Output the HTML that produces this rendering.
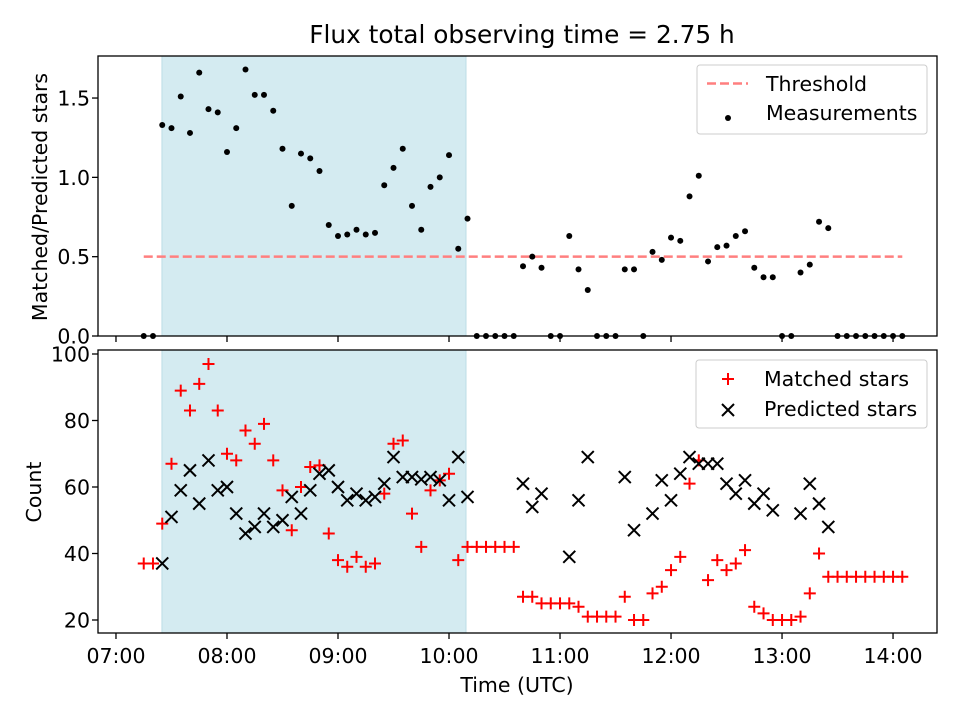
<!DOCTYPE html>
<html><head><meta charset="utf-8"><style>
html,body{margin:0;padding:0;background:#fff;}
svg{display:block;font-family:"DejaVu Sans","Liberation Sans",sans-serif;}
</style></head><body>
<svg id="chart" width="960" height="720" viewBox="0 0 960 720"></svg>
<script>
// ---- data ----
const startHour = 7.25;
const stepHours = 5/60;
const shadeStart = 7.414;
const shadeEnd = 10.153;
const threshold = 0.5;
const ratio = [0,0,1.33,1.31,1.51,1.28,1.66,1.43,1.41,1.16,1.31,1.68,1.52,1.52,1.42,1.18,0.82,1.15,1.12,1.04,0.70,0.63,0.64,0.67,0.64,0.65,0.95,1.06,1.18,0.82,0.67,0.94,1.00,1.14,0.55,0.74,0,0,0,0,0,0.44,0.50,0.43,0,0,0.63,0.42,0.29,0,0,0,0.42,0.42,0,0.53,0.48,0.62,0.60,0.88,1.01,0.47,0.56,0.57,0.63,0.66,0.43,0.37,0.37,0,0,0.40,0.45,0.72,0.68,0,0,0,0,0,0,0,0];
const matched = [37,37,49,67,89,83,91,97,83,70,68,77,73,79,68,59,47,60,66,66.5,46,38,36,39,36,37,58,73,74,52,42,59,62,64,38,42,42,42,42,42,42,27,27,25,25,25,25,24,21,21,21,21,27,20,20,28,30,35,39,61,68,32,38,35,37,41,24,22,20,20,20,21,28,40,33,33,33,33,33,33,33,33,33];
const predicted = [null,null,37,51,59,65,55,68,59,60,52,46,48,52,48,50,57,52,59,64,65,60,56,58,56,57,61,69,63,63,62.3,63,62,56,69,57,null,null,null,null,null,61,54,58,null,null,39,56,69,null,null,null,63,47,null,52,62,56,64,69,67,67,67,61,58,62,55,58,53,null,null,52,61,55,48,null,null,null,null,null,null,null,null];
const topTicks = [0,0.5,1.0,1.5];
const botTicks = [20,40,60,80,100];
const xTickHours = [7,8,9,10,11,12,13,14];
const xTickLabels = ["07:00","08:00","09:00","10:00","11:00","12:00","13:00","14:00"];

// ---- axes ----
const L=98,R=937,T1=56,B1=336,T2=350,B2=633;
const xmin=6.838,xmax=14.396;
const X=h=>L+(h-xmin)/(xmax-xmin)*(R-L);
const Y1=v=>B1-(v-0)/(1.765-0)*(B1-T1);
const Y2=v=>620-(v-20)*3.325;
const svg=document.getElementById('chart');
const NS='http://www.w3.org/2000/svg';
const FS='20.5';
function mk(tag,attrs,parent){const e=document.createElementNS(NS,tag);for(const k in attrs)e.setAttribute(k,attrs[k]);(parent||svg).appendChild(e);return e;}

let t=mk('text',{x:522,y:43,'text-anchor':'middle','font-size':'24.8'});t.textContent='Flux total observing time = 2.75 h';



function panel(top,bot,name){
  const g=mk('g',{});
  
  
  const r=mk('rect',{x:X(shadeStart),y:top,width:X(shadeEnd)-X(shadeStart),height:bot-top,fill:'#d4ebf1',stroke:'#bcdde6','stroke-width':1},g);
  
  
  return g;
}
const p1=panel(T1,B1,'top-panel');
const p2=panel(T2,B2,'bottom-panel');

const th=mk('line',{x1:X(startHour),x2:X(startHour+82*stepHours),y1:Y1(threshold),y2:Y1(threshold),stroke:'#ff7f7f','stroke-width':2.5,'stroke-dasharray':'9,4'},p1);



ratio.forEach((v,i)=>{
  if(v==null)return;
  const c=mk('circle',{cx:X(startHour+i*stepHours),cy:Y1(v),r:3,fill:'#000'},p1);
  
  
});
function plus(x,y,g){return mk('path',{d:`M${x-6},${y}H${x+6}M${x},${y-6}V${y+6}`,stroke:'#ff0000','stroke-width':2,fill:'none'},g);}
function cross(x,y,g){return mk('path',{d:`M${x-6},${y-6}L${x+6},${y+6}M${x-6},${y+6}L${x+6},${y-6}`,stroke:'#000','stroke-width':2,fill:'none'},g);}
matched.forEach((v,i)=>{
  if(v==null)return;
  const p=plus(X(startHour+i*stepHours),Y2(v),p2);
  
  
});
predicted.forEach((v,i)=>{
  if(v==null)return;
  const p=cross(X(startHour+i*stepHours),Y2(v),p2);
  
  
});

[[T1,B1,'top-axes-frame'],[T2,B2,'bottom-axes-frame']].forEach(([a,b,n])=>{
  const f=mk('rect',{x:L,y:a,width:R-L,height:b-a,fill:'none',stroke:'#000','stroke-width':1.3});
  
  
});
topTicks.forEach(v=>{
  const y=Y1(v);
  mk('line',{x1:L-6,x2:L,y1:y,y2:y,stroke:'#000','stroke-width':1.3});
  const tx=mk('text',{x:L-8,y:y+7.5,'text-anchor':'end','font-size':FS});tx.textContent=v.toFixed(1);
  
  
});
botTicks.forEach(v=>{
  const y=Y2(v);
  mk('line',{x1:L-6,x2:L,y1:y,y2:y,stroke:'#000','stroke-width':1.3});
  const tx=mk('text',{x:L-8,y:y+7.5,'text-anchor':'end','font-size':FS});tx.textContent=v;
  
  
});
xTickHours.forEach((h,i)=>{
  const x=X(h);
  mk('line',{x1:x,x2:x,y1:B1,y2:B1+6,stroke:'#000','stroke-width':1.3});
  mk('line',{x1:x,x2:x,y1:B2,y2:B2+6,stroke:'#000','stroke-width':1.3});
  const tx=mk('text',{x:x,y:663,'text-anchor':'middle','font-size':FS});tx.textContent=xTickLabels[i];
  
  
});
let a=mk('text',{x:0,y:0,'text-anchor':'middle','font-size':FS,transform:'translate(47,197) rotate(-90)'});a.textContent='Matched/Predicted stars';


a=mk('text',{x:0,y:0,'text-anchor':'middle','font-size':FS,transform:'translate(41,492) rotate(-90)'});a.textContent='Count';


a=mk('text',{x:517,y:692,'text-anchor':'middle','font-size':FS});a.textContent='Time (UTC)';



let lg=mk('g',{});


mk('rect',{x:697,y:65,width:230,height:69,rx:3,fill:'#fff','fill-opacity':0.85,stroke:'#ccc'},lg);
mk('line',{x1:707,x2:748,y1:83.5,y2:83.5,stroke:'#ff7f7f','stroke-width':2.5,'stroke-dasharray':'9,4'},lg);
let lt=mk('text',{x:766,y:91,'font-size':FS},lg);lt.textContent='Threshold';


mk('circle',{cx:728,cy:118,r:3,fill:'#000'},lg);
lt=mk('text',{x:766,y:120,'font-size':FS},lg);lt.textContent='Measurements';



lg=mk('g',{});


mk('rect',{x:696,y:360,width:231,height:68,rx:3,fill:'#fff','fill-opacity':0.85,stroke:'#ccc'},lg);
plus(728,379,lg);
lt=mk('text',{x:764,y:386,'font-size':FS},lg);lt.textContent='Matched stars';


cross(728,410,lg);
lt=mk('text',{x:764,y:416,'font-size':FS},lg);lt.textContent='Predicted stars';


</script>
</body></html>
